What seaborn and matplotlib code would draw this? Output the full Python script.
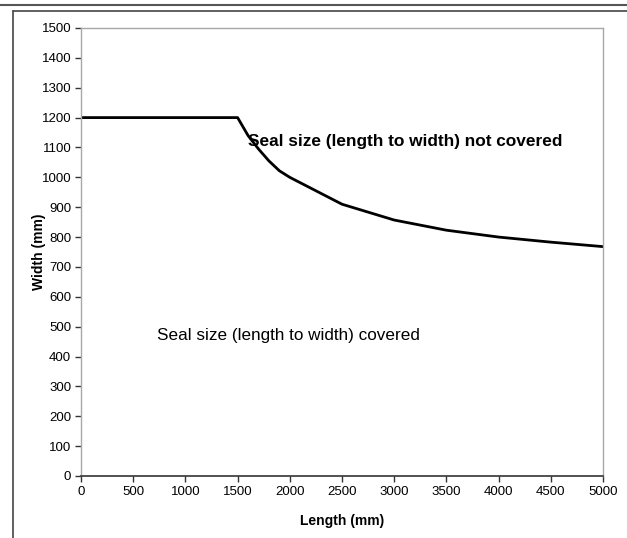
import numpy as np
import pandas as pd
import matplotlib
matplotlib.use("Agg")
import matplotlib.pyplot as plt
from matplotlib.lines import Line2D
import seaborn as sns

# values
length_mm = [0, 1500, 1600, 1700, 1800, 1900, 2000, 2500, 3000, 3500, 4000, 4500, 5000]
width_mm = [1200, 1200, 1140, 1095, 1055, 1022, 1000, 910, 857, 823, 800, 783, 768]

x_ticks = list(range(0, 5001, 500))
y_ticks = list(range(0, 1501, 100))

label_not_covered = "Seal size (length to width) not covered"
label_covered = "Seal size (length to width) covered"

sns.set_theme(style="white")
plt.rcParams['font.family'] = ['Liberation Sans', 'DejaVu Sans']
plt.rcParams['text.color'] = 'black'
plt.rcParams['axes.labelcolor'] = 'black'
plt.rcParams['xtick.color'] = 'black'
plt.rcParams['ytick.color'] = 'black'

df = pd.DataFrame({"Length": length_mm, "Width": width_mm})

fig = plt.figure(figsize=(6.27, 5.38), dpi=100)
ax = fig.add_axes([81 / 627, 1 - 476 / 538, (603 - 81) / 627, (476 - 28) / 538])

sns.lineplot(data=df, x="Length", y="Width", ax=ax, color="black", linewidth=2.0)

ax.set_xlim(0, 5000)
ax.set_ylim(0, 1500)
ax.set_xticks(x_ticks)
ax.set_yticks(y_ticks)
ax.tick_params(axis="both", labelsize=9.5, length=4, width=1, color="#333333",
               direction="out", pad=3, bottom=True, left=True)
ax.set_xlabel("Length (mm)", fontsize=10, fontweight="bold", labelpad=12)
ax.set_ylabel("Width (mm)", fontsize=10, fontweight="bold", labelpad=-3)

for side in ["top", "right", "left"]:
    ax.spines[side].set_color("#a8a8a8")
    ax.spines[side].set_linewidth(1.0)
ax.spines["bottom"].set_color("#333333")
ax.spines["bottom"].set_linewidth(1.2)

ax.text(1600, 1120, label_not_covered, fontsize=12.4, fontweight="bold",
        va="center", ha="left")
ax.text(728, 469, label_covered, fontsize=12.3, va="center", ha="left")

# page frame lines around the chart
fig.add_artist(Line2D([0, 1], [1 - 5 / 538, 1 - 5 / 538], color="#555555", linewidth=1.5))
fig.add_artist(Line2D([13 / 627, 1], [1 - 10.5 / 538, 1 - 10.5 / 538], color="#444444", linewidth=1.2))
fig.add_artist(Line2D([13 / 627, 13 / 627], [0, 1 - 10.5 / 538], color="#444444", linewidth=1.2))

fig.savefig("out.png", dpi=100)
